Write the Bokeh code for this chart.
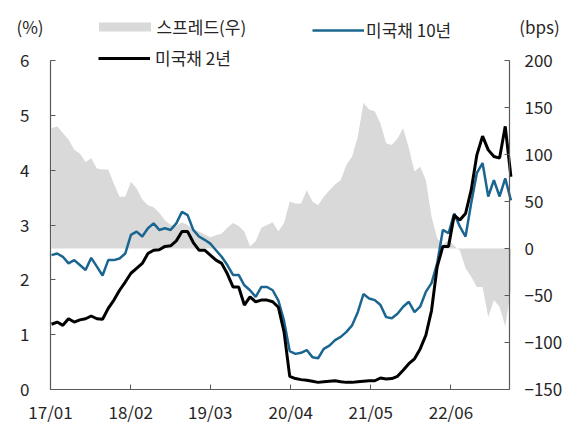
import pandas as pd
from bokeh.plotting import figure
from bokeh.models import (Range1d, LinearAxis, FixedTicker, Legend, LegendItem,
                          Label, DatetimeTickFormatter)
from bokeh.embed import file_html
from bokeh.resources import INLINE

# ---- data (4-weekly samples) ----
dates = pd.date_range("2017-01-06", periods=82, freq="28D")

ust10 = [2.45, 2.48, 2.42, 2.30, 2.36, 2.27, 2.18, 2.40, 2.24, 2.08,
         2.36, 2.36, 2.39, 2.48, 2.82, 2.88, 2.79, 2.94, 3.03, 2.91,
         2.94, 2.91, 3.03, 3.24, 3.18, 2.91, 2.79, 2.73, 2.66, 2.54,
         2.42, 2.27, 2.09, 2.09, 1.90, 1.81, 1.69, 1.87, 1.87, 1.81,
         1.62, 1.25, 0.70, 0.65, 0.67, 0.72, 0.59, 0.57, 0.74, 0.80,
         0.90, 0.96, 1.05, 1.17, 1.41, 1.74, 1.66, 1.63, 1.54, 1.32,
         1.30, 1.38, 1.51, 1.60, 1.41, 1.51, 1.78, 1.94, 2.30, 2.91,
         2.85, 3.21, 2.97, 2.79, 3.40, 3.95, 4.13, 3.52, 3.82, 3.52,
         3.85, 3.45]

ust2 = [1.19, 1.23, 1.17, 1.29, 1.23, 1.27, 1.29, 1.34, 1.29, 1.28,
        1.48, 1.63, 1.81, 1.96, 2.12, 2.21, 2.30, 2.48, 2.54, 2.55,
        2.61, 2.62, 2.71, 2.88, 2.88, 2.68, 2.54, 2.54, 2.45, 2.36,
        2.30, 2.11, 1.87, 1.87, 1.54, 1.69, 1.60, 1.63, 1.63, 1.60,
        1.50, 1.05, 0.24, 0.20, 0.18, 0.17, 0.15, 0.13, 0.14, 0.15,
        0.16, 0.14, 0.13, 0.13, 0.14, 0.15, 0.16, 0.16, 0.21, 0.19,
        0.20, 0.24, 0.35, 0.47, 0.56, 0.74, 0.99, 1.44, 2.24, 2.61,
        2.61, 3.18, 3.09, 3.21, 3.64, 4.28, 4.62, 4.37, 4.25, 4.22,
        4.80, 3.88]

spread_bp = [128, 130, 123, 116, 105, 101, 92, 96, 85, 84,
             84, 69, 55, 55, 71, 64, 52, 46, 44, 38,
             30, 25, 24, 28, 25, 20, 18, 15, 12, 14,
             16, 22, 27, 24, 18, 2, 8, 22, 25, 28,
             18, 27, 50, 48, 48, 62, 50, 46, 55, 62,
             68, 73, 89, 98, 119, 155, 148, 146, 133, 112,
             110, 117, 128, 107, 82, 87, 73, 34, 11, 4,
             9, 3, -2, -21, -30, -41, -41, -73, -55, -62,
             -83, -44]

tick_dates = ["2017-01-01", "2018-02-01", "2019-03-01",
              "2020-04-01", "2021-05-01", "2022-06-01"]
x_start, x_end = "2017-01-01", "2023-03-17"
left_ticks = [0, 1, 2, 3, 4, 5, 6]
left_lim = (0, 6)
right_ticks = [-150, -100, -50, 0, 50, 100, 150, 200]
right_lim = (-150, 200)

names = ["스프레드(우)", "미국채 10년", "미국채 2년"]

FONT = "Noto Sans CJK KR"
FS = "17px"
TXT = "#262626"
AX = "#595959"
BLUE = "#1b6690"
GREY = "#d9d9d9"

# ---- layout: the frame fills the canvas, axes are drawn at fixed locations ----
W, H = 565, 423
FL, FR, FT, FB = 50, 509, 60, 389      # wanted axis box in canvas pixels

t0, t1 = pd.Timestamp(x_start), pd.Timestamp(x_end)
px_per_day = (FR - FL) / (t1 - t0).days
xr = Range1d(t0 - pd.Timedelta(days=FL / px_per_day),
             t1 + pd.Timedelta(days=(W - FR) / px_per_day))


def yrange(lo, hi):
    per_px = (hi - lo) / (FB - FT)
    return Range1d(lo - (H - FB) * per_px, hi + FT * per_px)


p = figure(width=W, height=H, x_axis_type=None, y_axis_type=None,
           output_backend="svg", toolbar_location=None,
           x_range=xr, y_range=yrange(*left_lim),
           min_border_left=0, min_border_right=0,
           min_border_top=0, min_border_bottom=0)
p.extra_y_ranges = {"right": yrange(*right_lim)}
p.outline_line_color = None
p.background_fill_color = "white"
p.border_fill_color = "white"

r_spread = p.varea(x=dates, y1=0, y2=spread_bp, y_range_name="right",
                   fill_color=GREY)
r10 = p.line(dates, ust10, line_color=BLUE, line_width=2.5)
r2 = p.line(dates, ust2, line_color="black", line_width=3)

t0_ms = t0.value // 10**6
t1_ms = t1.value // 10**6
tick_ms = [pd.Timestamp(d).value // 10**6 for d in tick_dates]
fmt = "%y/%m"

xaxis = LinearAxis(ticker=FixedTicker(ticks=tick_ms),
                   formatter=DatetimeTickFormatter(years=fmt, months=fmt, days=fmt,
                                                   hours=fmt, minutes=fmt),
                   bounds=(t0_ms, t1_ms), fixed_location=0,
                   major_label_standoff=9)
laxis = LinearAxis(ticker=FixedTicker(ticks=left_ticks), bounds=left_lim,
                   fixed_location=t0_ms, major_label_standoff=21)
raxis = LinearAxis(y_range_name="right", ticker=FixedTicker(ticks=right_ticks),
                   bounds=right_lim, fixed_location=t1_ms, major_label_standoff=15)
p.add_layout(xaxis, "below")
p.add_layout(laxis, "left")
p.add_layout(raxis, "right")

for ax in [xaxis, laxis, raxis]:
    ax.axis_line_color = AX
    ax.axis_line_width = 1.2
    ax.major_tick_line_color = AX
    ax.major_tick_in = 5
    ax.major_tick_out = 0
    ax.minor_tick_line_color = None
    ax.major_label_text_font = FONT
    ax.major_label_text_font_size = FS
    ax.major_label_text_color = TXT


def mk_legend(item, left, center_y, gw, gh, lh, standoff):
    lg = Legend(items=[item], location=(left, H - center_y - lh / 2),
                orientation="horizontal",
                border_line_color=None, background_fill_alpha=0,
                padding=0, margin=0, spacing=0,
                glyph_width=gw, glyph_height=gh, label_height=lh,
                label_standoff=standoff,
                label_text_font=FONT, label_text_font_size=FS,
                label_text_color=TXT)
    p.add_layout(lg)


mk_legend(LegendItem(label=names[0], renderers=[r_spread]), 91.5, 33, 65, 11, 11, 0)
mk_legend(LegendItem(label=names[1], renderers=[r10]), 312, 32, 52, 20, 20, 2)
mk_legend(LegendItem(label=names[2], renderers=[r2]), 98, 60, 52, 20, 20, 5)

for txt, x in [("(%)", 29.5), ("(bps)", 539)]:
    p.add_layout(Label(x=x, y=H - 26, x_units="screen", y_units="screen", text=txt,
                       text_align="center", text_baseline="middle",
                       text_font=FONT, text_font_size=FS, text_color=TXT))

open("out.html", "w").write(file_html(p, INLINE))
